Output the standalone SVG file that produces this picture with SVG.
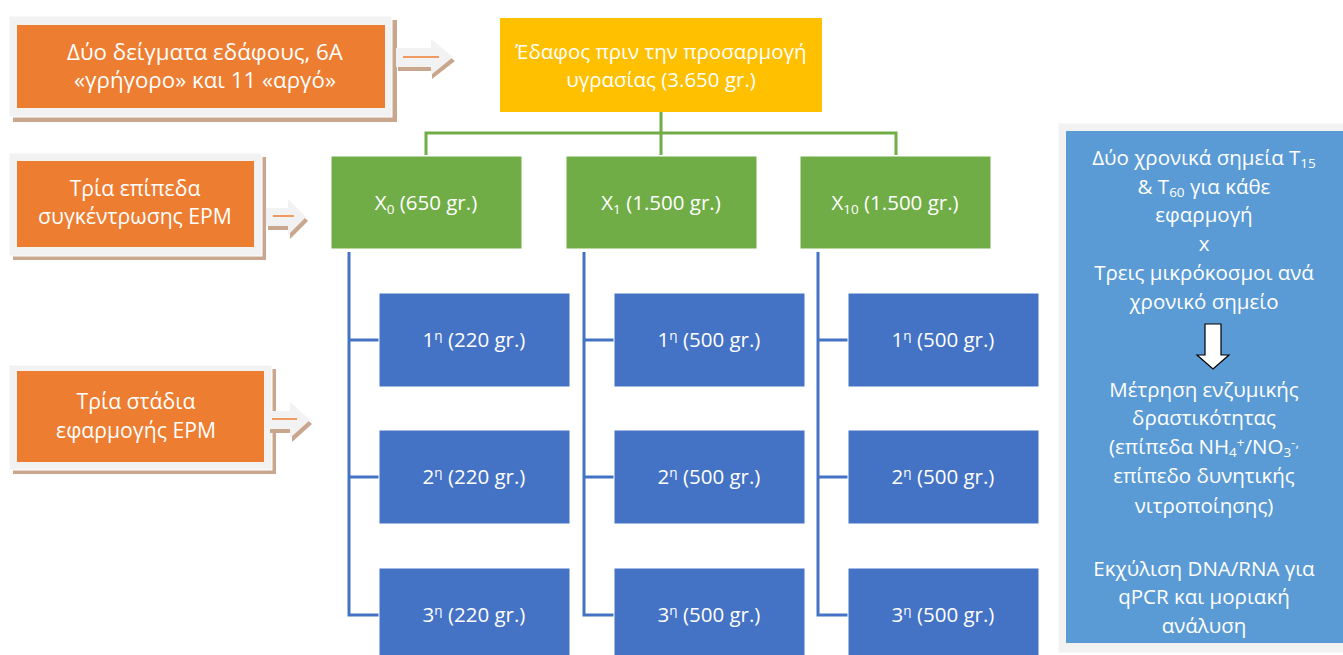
<svg xmlns="http://www.w3.org/2000/svg" width="1343" height="655" viewBox="0 0 1343 655">
<style>
text{font-family:"Open Sans","Liberation Sans",Arial,sans-serif;fill:#fff;font-size:20.5px;text-anchor:middle}
.t1{font-size:22.3px}
.t2{font-size:21.2px}
.frame{fill:#F2F2F2;stroke:#fff;stroke-width:1}
.shadow{fill:#C9A68E}
.orange{fill:#ED7D31}
.yellow{fill:#FFC000}
.green{fill:#70AD47;stroke:#fff;stroke-width:1}
.blue{fill:#4472C4;stroke:#fff;stroke-width:1}
.panel{fill:#5B9BD5}
.gline{fill:none;stroke:#70AD47;stroke-width:3}
.bline{fill:none;stroke:#4472C4;stroke-width:3}
.arr{fill:#F2F2F2}
.oline{stroke:#ED7D31;stroke-width:1.5}
.sm{font-size:13.5px}
</style>

<g id="orange1">
  <rect class="shadow" x="13" y="20" width="384" height="102"/>
  <rect class="frame" x="9" y="16" width="383" height="101"/>
  <rect class="orange" x="17" y="25" width="368" height="83"/>
  <text class="t1" x="205" y="60">Δύο δείγματα εδάφους, 6A</text>
  <text class="t1" x="205" y="88">«γρήγορο» και 11 «αργό»</text>
</g>
<g id="orange2">
  <rect class="shadow" x="13" y="157" width="253" height="103"/>
  <rect class="frame" x="9" y="153" width="253" height="103"/>
  <rect class="orange" x="17" y="161" width="237" height="86"/>
  <text class="t2" x="135" y="196">Τρία επίπεδα</text>
  <text class="t2" x="135" y="224">συγκέντρωσης EPM</text>
</g>
<g id="orange3">
  <rect class="shadow" x="13" y="369" width="263" height="105"/>
  <rect class="frame" x="9" y="365" width="263" height="105"/>
  <rect class="orange" x="17" y="371" width="247" height="91"/>
  <text class="t2" x="136" y="409">Τρία στάδια</text>
  <text class="t2" x="136" y="438">εφαρμογής EPM</text>
</g>

<g id="arrows">
  <g id="arrow1">
    <polygon class="shadow" points="398,52 432,52 432,43 455,61 432,79 432,71 398,71"/>
    <polygon class="arr" points="396,48 431,48 431,39 453,57 431,75 431,67 396,67"/>
    <line class="oline" x1="403" y1="57" x2="439" y2="57"/>
  </g>
  <g id="arrow2">
    <polygon class="shadow" points="268,212 290,212 290,203 308,221 290,239 290,230 268,230"/>
    <polygon class="arr" points="266,208 288,208 288,199 306,217 288,235 288,226 266,226"/>
    <line class="oline" x1="273" y1="216" x2="294" y2="216"/>
  </g>
  <g id="arrow3">
    <polygon class="shadow" points="270,415 292,415 292,406 312,424 292,442 292,433 270,433"/>
    <polygon class="arr" points="268,411 290,411 290,402 310,420 290,438 290,429 268,429"/>
    <line class="oline" x1="272" y1="419" x2="297" y2="419"/>
  </g>
</g>

<g id="connectors">
  <path class="gline" d="M661,112 V155 M426,155 V133 H896 V155"/>
  <path class="bline" d="M349,252 V615 H379 M349,340 H379 M349,477 H379"/>
  <path class="bline" d="M584,252 V615 H614 M584,340 H614 M584,477 H614"/>
  <path class="bline" d="M818,252 V615 H848 M818,340 H848 M818,477 H848"/>
</g>

<g id="yellow">
  <rect class="yellow" x="500" y="18" width="322" height="94"/>
  <text x="661" y="59">Έδαφος πριν την προσαρμογή</text>
  <text x="661" y="87">υγρασίας (3.650 gr.)</text>
</g>

<g id="X0">
  <rect class="green" x="331" y="156" width="191" height="93"/>
  <text x="426" y="210">X<tspan class="sm" dy="4">0</tspan><tspan dy="-4"> (650 gr.)</tspan></text>
</g>
<g id="X1">
  <rect class="green" x="566" y="156" width="191" height="93"/>
  <text x="661" y="210">X<tspan class="sm" dy="4">1</tspan><tspan dy="-4"> (1.500  gr.)</tspan></text>
</g>
<g id="X10">
  <rect class="green" x="800" y="156" width="191" height="93"/>
  <text x="895" y="210">X<tspan class="sm" dy="4">10</tspan><tspan dy="-4"> (1.500 gr.)</tspan></text>
</g>

<g id="b11"><rect class="blue" x="379" y="293" width="191" height="94"/><text x="474" y="347">1<tspan class="sm" dy="-7">η</tspan><tspan dy="7"> (220 gr.)</tspan></text></g>
<g id="b12"><rect class="blue" x="379" y="430" width="191" height="94"/><text x="474" y="484">2<tspan class="sm" dy="-7">η</tspan><tspan dy="7"> (220 gr.)</tspan></text></g>
<g id="b13"><rect class="blue" x="379" y="568" width="191" height="94"/><text x="474" y="622">3<tspan class="sm" dy="-7">η</tspan><tspan dy="7"> (220 gr.)</tspan></text></g>

<g id="b21"><rect class="blue" x="614" y="293" width="191" height="94"/><text x="709" y="347">1<tspan class="sm" dy="-7">η</tspan><tspan dy="7"> (500 gr.)</tspan></text></g>
<g id="b22"><rect class="blue" x="614" y="430" width="191" height="94"/><text x="709" y="484">2<tspan class="sm" dy="-7">η</tspan><tspan dy="7"> (500 gr.)</tspan></text></g>
<g id="b23"><rect class="blue" x="614" y="568" width="191" height="94"/><text x="709" y="622">3<tspan class="sm" dy="-7">η</tspan><tspan dy="7"> (500 gr.)</tspan></text></g>

<g id="b31"><rect class="blue" x="848" y="293" width="191" height="94"/><text x="943" y="347">1<tspan class="sm" dy="-7">η</tspan><tspan dy="7"> (500 gr.)</tspan></text></g>
<g id="b32"><rect class="blue" x="848" y="430" width="191" height="94"/><text x="943" y="484">2<tspan class="sm" dy="-7">η</tspan><tspan dy="7"> (500 gr.)</tspan></text></g>
<g id="b33"><rect class="blue" x="848" y="568" width="191" height="94"/><text x="943" y="622">3<tspan class="sm" dy="-7">η</tspan><tspan dy="7"> (500 gr.)</tspan></text></g>

<g id="panel">
  <rect class="frame" x="1058" y="123" width="290" height="530"/>
  <rect class="panel" x="1066" y="131" width="282" height="512"/>
  <text x="1204" y="165">Δύο χρονικά σημεία T<tspan class="sm" dy="3">15</tspan></text>
  <text x="1204" y="194">&amp; T<tspan class="sm" dy="3">60</tspan><tspan dy="-3"> για κάθε</tspan></text>
  <text x="1204" y="222">εφαρμογή</text>
  <text x="1204" y="251">x</text>
  <text x="1204" y="280">Τρεις μικρόκοσμοι ανά</text>
  <text x="1204" y="309">χρονικό σημείο</text>
  <polygon points="1205,324 1221,324 1221,355 1229,355 1213,369 1197,355 1205,355" fill="#fff" stroke="#000" stroke-width="1.2"/>
  <text x="1204" y="397">Μέτρηση ενζυμικής</text>
  <text x="1204" y="425">δραστικότητας</text>
  <text x="1204" y="454">(επίπεδα NH<tspan class="sm" dy="3">4</tspan><tspan class="sm" dy="-10">+</tspan><tspan dy="7">/NO</tspan><tspan class="sm" dy="3">3</tspan><tspan class="sm" dy="-10">-,</tspan></text>
  <text x="1204" y="483">επίπεδο δυνητικής</text>
  <text x="1204" y="513">νιτροποίησης)</text>
  <text x="1204" y="576">Εκχύλιση DNA/RNA για</text>
  <text x="1204" y="604">qPCR και μοριακή</text>
  <text x="1204" y="633">ανάλυση</text>
</g>
</svg>
